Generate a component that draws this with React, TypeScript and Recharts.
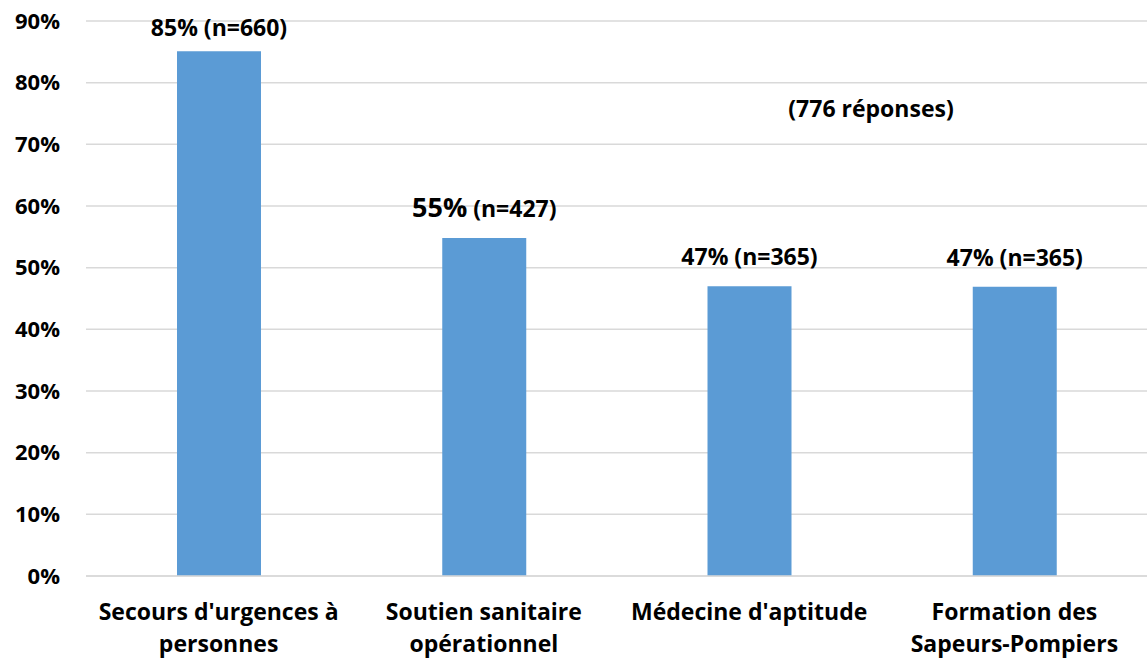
import { BarChart, Bar, XAxis, YAxis, CartesianGrid, LabelList } from 'recharts';

const categories = [
  "Secours d'urgences à\npersonnes",
  'Soutien sanitaire\nopérationnel',
  "Médecine d'aptitude",
  'Formation des\nSapeurs-Pompiers',
];
const shares = [85.1, 54.8, 47.0, 46.9];
const pctLabels = ['85%', '55%', '47%', '47%'];
const counts = [660, 427, 365, 365];
const yTicks = [0, 10, 20, 30, 40, 50, 60, 70, 80, 90];

const FONT = '"Open Sans", Lato, sans-serif';
const BAR_COLOR = '#5B9BD5';
const GRID = '#D9D9D9';

const data = categories.map((name, i) => ({ name, share: shares[i], pct: pctLabels[i], n: counts[i] }));

function CategoryTick({ x, y, payload }: any) {
  const lines = String(payload.value).split('\n');
  return (
    <text x={x} y={y} textAnchor="middle" fill="#000" fontFamily={FONT} fontWeight={700} fontSize={23}>
      {lines.map((line, i) => (
        <tspan key={i} x={x} dy={i === 0 ? 44 : 32}>
          {line}
        </tspan>
      ))}
    </text>
  );
}

function BarLabel({ x, y, width, index }: any) {
  const d = data[index];
  // the second label has a larger percentage in the source
  const big = index === 1;
  // keep the tallest label inside the chart, like the original
  const ty = Math.max(y - 21, 36);
  return (
    <text x={x + width / 2} y={ty} textAnchor="middle" fill="#000" fontFamily={FONT} fontWeight={700} fontSize={23}>
      <tspan fontSize={big ? 27 : 23}>{d.pct}</tspan>
      <tspan>{` (n=${d.n})`}</tspan>
    </text>
  );
}

export default function App() {
  return (
    <div style={{ position: 'absolute', left: 0, top: 0, width: 1147, height: 661, background: '#fff' }}>
      <BarChart width={1147} height={661} data={data} margin={{ top: 21, right: 0, bottom: 0, left: 0 }}>
        <CartesianGrid vertical={false} stroke={GRID} strokeWidth={1.5} />
        <XAxis
          dataKey="name"
          height={85}
          axisLine={{ stroke: GRID, strokeWidth: 1.5 }}
          tickLine={false}
          tickSize={0}
          tickMargin={0}
          interval={0}
          tick={<CategoryTick />}
        />
        <YAxis
          width={86}
          domain={[0, 90]}
          ticks={yTicks}
          axisLine={false}
          tickLine={false}
          tickSize={0}
          tickMargin={26}
          tickFormatter={(v: number) => `${v}%`}
          tick={{ fill: '#000', fontSize: 22, fontWeight: 700, fontFamily: FONT }}
        />
        <Bar dataKey="share" fill={BAR_COLOR} barSize={84} isAnimationActive={false}>
          <LabelList dataKey="share" content={<BarLabel />} />
        </Bar>
      </BarChart>
      <div
        style={{
          position: 'absolute',
          left: 871,
          top: 108,
          transform: 'translate(-50%, -50%)',
          fontFamily: FONT,
          fontWeight: 700,
          fontSize: 23,
          color: '#000',
          whiteSpace: 'nowrap',
        }}
      >
        (776 réponses)
      </div>
    </div>
  );
}
